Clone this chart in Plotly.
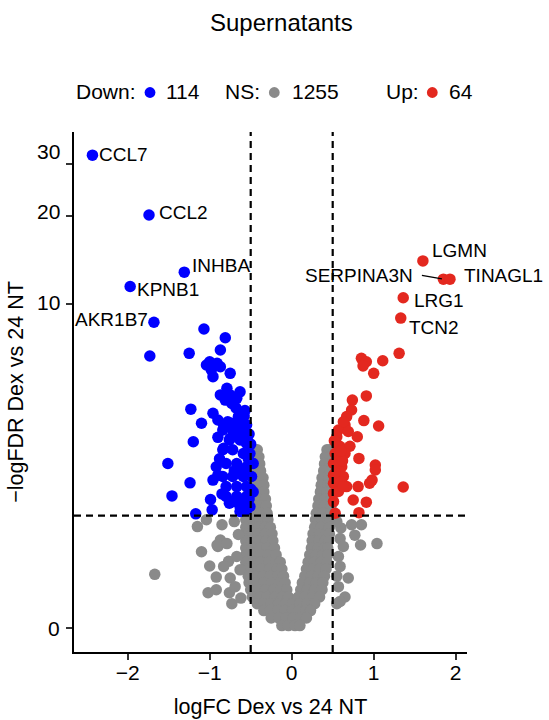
import numpy as np
import plotly.graph_objects as go

# ---------------- data ----------------
FC_CUT = 0.5
FDR_CUT = 1.301

title_text = "Supernatants"
x_title = "logFC Dex vs 24 NT"
y_title = "\u2212logFDR Dex vs 24 NT"
x_tick_vals = [-2, -1, 0, 1, 2]
x_tick_text = ["\u22122", "\u22121", "0", "1", "2"]
y_tick_vals = [0, 10, 20, 30]
y_tick_text = ["0", "10", "20", "30"]

legend_names = ["Down:", "NS:", "Up:"]
legend_counts = [114, 1255, 64]

# labelled genes
label_names = ["CCL7", "CCL2", "INHBA", "KPNB1", "AKR1B7",
               "LGMN", "SERPINA3N", "TINAGL1", "LRG1", "TCN2"]
label_fc = [-2.43, -1.74, -1.31, -1.97, -1.68, 1.60, 1.85, 1.93, 1.36, 1.33]
label_fdr = [32.0, 20.2, 12.9, 11.5, 8.6, 14.1, 12.2, 12.2, 10.5, 8.9]
label_group = ["Down"] * 5 + ["Up"] * 5

# down-regulated (unlabelled)
down_fc = [-1.73, -1.07, -0.81, -1.25, -0.87, -1.00, -0.91, -1.04, -0.98, -0.96,
           -0.87, -0.75, -0.79, -0.87, -0.81, -0.73, -0.67, -0.63, -0.75, -1.23,
           -0.96, -0.90, -0.83, -0.73, -0.65, -0.61, -0.69, -1.10, -1.20, -0.75,
           -0.67, -0.59, -0.83, -0.84, -0.72, -0.61, -0.76, -0.63, -0.55, -0.84,
           -0.72, -0.59, -0.51, -0.92, -0.80, -0.67, -0.55, -0.47, -0.84, -0.72,
           -0.59, -0.49, -0.80, -0.67, -0.55, -0.47, -0.80, -0.67, -0.55, -0.76,
           -0.63, -0.51, -0.63, -1.51, -1.24, -1.46, -0.96, -0.99, -0.97, -1.17,
           -0.78, -0.58, -0.55, -0.52, -0.57, -0.68, -0.50, -0.53, -0.60, -0.70,
           -0.88, -0.90, -0.85, -0.72, -0.58, -0.50, -0.90, -0.62, -0.55, -0.52]
down_fdr = [6.48, 8.13, 7.56, 6.63, 6.82, 6.17, 6.09, 6.00, 5.75, 5.42,
            5.91, 5.58, 4.89, 4.61, 4.40, 4.27, 4.47, 4.74, 4.61, 4.05,
            3.90, 3.66, 3.49, 3.55, 3.78, 3.44, 3.33, 3.55, 2.97, 3.07,
            3.17, 3.02, 2.78, 3.33, 3.33, 3.33, 3.02, 3.02, 2.92, 2.74,
            2.74, 2.64, 2.64, 2.30, 2.38, 2.38, 2.30, 2.38, 2.07, 2.07,
            2.07, 2.07, 1.85, 1.85, 1.85, 1.74, 1.65, 1.65, 1.65, 1.52,
            1.46, 1.46, 1.37, 2.38, 1.93, 1.66, 1.99, 1.59, 1.40, 1.33,
            3.60, 3.80, 3.50, 3.20, 4.00, 4.10, 2.90, 2.50, 2.20, 2.20,
            2.50, 2.10, 1.70, 1.55, 1.55, 1.80, 3.10, 3.55, 1.40, 1.60]

# up-regulated (unlabelled)
up_fc = [1.31, 0.85, 0.91, 0.87, 1.11, 1.00, 0.91, 0.74, 0.73, 0.67,
         0.65, 0.88, 1.06, 0.57, 0.55, 0.69, 0.80, 0.59, 0.71, 0.53,
         0.65, 0.82, 0.51, 0.61, 0.51, 0.63, 1.02, 1.02, 0.51, 0.67,
         0.81, 0.95, 0.98, 1.36, 0.51, 0.75, 0.91, 0.53, 0.82, 0.55,
         0.58, 0.53, 0.57, 0.60, 0.62, 0.52, 0.63, 0.60, 0.51, 0.63]
up_fdr = [6.63, 6.35, 6.17, 5.95, 6.22, 5.58, 4.57, 4.40, 4.02, 3.78,
          3.49, 3.64, 3.46, 3.33, 3.12, 3.28, 3.12, 2.83, 2.84, 2.64,
          2.64, 2.51, 2.38, 2.30, 2.10, 2.07, 2.34, 2.22, 1.92, 1.85,
          1.85, 1.92, 1.99, 1.84, 1.71, 1.58, 1.54, 1.34, 1.35, 2.90,
          2.45, 2.15, 1.75, 1.95, 2.45, 3.00, 3.60, 2.70, 1.55, 1.85]

# not significant: rows of the dense V (one -logFDR level per row)
ns_row_fdr = [2.74, 2.55, 2.37, 2.20, 2.04, 1.88, 1.74, 1.60, 1.47, 1.34,
              1.23, 1.11, 1.01, 0.91, 0.81, 0.72, 0.63, 0.55, 0.47, 0.40,
              0.33, 0.26, 0.20, 0.14, 0.08, 0.02]
ns_row_fc = [
    [-0.42, 0.43, 0.46],
    [-0.44, -0.40, 0.41, 0.47],
    [-0.46, -0.39, 0.40, 0.47],
    [-0.47, -0.38, 0.39, 0.47],
    [-0.49, -0.41, -0.35, 0.37, 0.45],
    [-0.50, -0.42, -0.34, 0.36, 0.44, 0.48],
    [-0.52, -0.43, -0.34, 0.35, 0.43, 0.48],
    [-0.53, -0.45, -0.36, -0.32, 0.33, 0.41, 0.48],
    [-0.54, -0.46, -0.38, -0.31, 0.32, 0.40, 0.48],
    [-0.56, -0.47, -0.38, -0.30, 0.30, 0.38, 0.48],
    [-0.56, -0.48, -0.39, -0.29, 0.29, 0.37, 0.47],
    [-0.56, -0.48, -0.40, -0.32, -0.26, 0.28, 0.36, 0.46],
    [-0.56, -0.48, -0.40, -0.32, -0.24, 0.26, 0.34, 0.42, 0.46],
    [-0.56, -0.48, -0.40, -0.31, -0.23, 0.25, 0.33, 0.41, 0.45],
    [-0.56, -0.48, -0.39, -0.30, -0.21, 0.24, 0.32, 0.40, 0.44],
    [-0.56, -0.47, -0.38, -0.29, -0.19, 0.22, 0.30, 0.38, 0.44],
    [-0.56, -0.47, -0.38, -0.28, -0.19, -0.14, 0.20, 0.28, 0.36, 0.43],
    [-0.55, -0.46, -0.37, -0.27, -0.18, -0.12, 0.18, 0.26, 0.34, 0.42],
    [-0.53, -0.44, -0.35, -0.26, -0.17, -0.10, 0.16, 0.24, 0.32, 0.40],
    [-0.52, -0.43, -0.34, -0.24, -0.15, -0.08, 0.13, 0.22, 0.30, 0.38],
    [-0.50, -0.41, -0.32, -0.22, -0.13, -0.06, 0.11, 0.19, 0.28, 0.37],
    [-0.48, -0.39, -0.30, -0.20, -0.11, -0.04, 0.08, 0.16, 0.25, 0.34],
    [-0.42, -0.34, -0.25, -0.16, -0.07, 0.01, 0.10, 0.19, 0.28],
    [-0.34, -0.26, -0.17, -0.08, 0.01, 0.09, 0.17, 0.23],
    [-0.25, -0.16, -0.07, 0.02, 0.10, 0.18],
    [-0.12, -0.04, 0.04, 0.10],
]
# not significant: scattered genes around the V
ns_out_fc = [-1.67, -1.10, -1.00, -0.92, -1.02, -0.92, -0.76, -0.73, -1.15, -1.04,
             -0.85, -0.87, -0.90, -0.77, -0.75, -0.83, -0.67, -0.63, -0.69, -0.91,
             -0.79, -0.65, -0.70, -0.62,
             1.04, 0.85, 0.77, 0.84, 0.69, 0.65, 0.59, 0.63, 0.57, 0.59,
             0.55, 0.59, 0.73, 0.55, 0.57, 0.60, 0.55]
ns_out_fdr = [0.49, 0.76, 0.585, 0.46, 0.30, 0.33, 0.30, 0.20, 1.12, 1.23,
              1.15, 0.92, 0.83, 0.64, 0.45, 0.58, 0.70, 0.54, 0.36, 0.85,
              0.87, 1.00, 1.20, 0.25,
              0.87, 1.15, 0.99, 0.85, 0.45, 0.26, 0.94, 0.83, 0.70, 0.58,
              0.20, 0.22, 1.15, 0.47, 0.36, 1.10, 1.20]

# ---------------- styling ----------------
FONT = "Liberation Sans, Arial, Helvetica, sans-serif"
COL = {"Down": "#0000FF", "NS": "#8A8A8A", "Up": "#E3281F"}
MSIZE = 11.5
W, H = 549, 720
ML, MR, MT, MB = 74, 82, 132, 68
PX_PER_FC = 82.0
PX_PER_LOG = 311.6
ZERO_X_PX = 291.7
ZERO_Y_PX = 628.3


def tr(v):
    """pseudo-log transform of the y scale"""
    return np.log10(1.0 + np.asarray(v, dtype=float))


ns_fc = [x for row in ns_row_fc for x in row] + ns_out_fc
ns_fdr = [y for y, row in zip(ns_row_fdr, ns_row_fc) for _ in row] + ns_out_fdr

lab_down = [i for i, g in enumerate(label_group) if g == "Down"]
lab_up = [i for i, g in enumerate(label_group) if g == "Up"]
dn_x = down_fc + [label_fc[i] for i in lab_down]
dn_y = down_fdr + [label_fdr[i] for i in lab_down]
up_x = up_fc + [label_fc[i] for i in lab_up]
up_y = up_fdr + [label_fdr[i] for i in lab_up]

fig = go.Figure()
for name, xs, ys in [("NS", ns_fc, ns_fdr), ("Down", dn_x, dn_y), ("Up", up_x, up_y)]:
    fig.add_trace(go.Scatter(
        x=xs, y=tr(ys), mode="markers", name=name, showlegend=False,
        marker=dict(color=COL[name], size=MSIZE, line=dict(width=0)),
        hoverinfo="skip"))

# threshold lines
dash = dict(color="black", width=2.2, dash="7px,5px")
fig.add_vline(x=-FC_CUT, line=dash, layer="above")
fig.add_vline(x=FC_CUT, line=dash, layer="above")
fig.add_hline(y=float(tr(FDR_CUT)), line=dash, layer="above")

# gene labels: (xshift, yshift, xanchor)
lab_style = {
    "CCL7": (4.5, 1, "left"), "CCL2": (7.5, 2.6, "left"),
    "INHBA": (5.5, 6.3, "left"), "KPNB1": (4.5, -2.6, "left"),
    "AKR1B7": (-3.5, 2.3, "right"), "LGMN": (7.5, 10.3, "left"),
    "SERPINA3N": (-28, 3.3, "right"), "TINAGL1": (12.5, 3.3, "left"),
    "LRG1": (8.5, -2.3, "left"), "TCN2": (6.0, -9, "left"),
}
for n, x, y in zip(label_names, label_fc, label_fdr):
    xs, ys, xa = lab_style[n]
    fig.add_annotation(x=x, y=float(tr(y)), text=n, showarrow=False,
                       xanchor=xa, yanchor="middle", xshift=xs, yshift=ys,
                       font=dict(family=FONT, size=19, color="black"))
# connector segment for SERPINA3N
i_s = label_names.index("SERPINA3N")
fig.add_annotation(x=label_fc[i_s], y=float(tr(label_fdr[i_s])), text="",
                   showarrow=True, arrowhead=0, arrowwidth=1.4, arrowcolor="black",
                   ax=-23, ay=-4, standoff=1.5)

# y tick labels (drawn as text next to the ticks, as in the source figure)
y_label_shift = [0, 1.5, 5, 12]
for v, t, s in zip(y_tick_vals, y_tick_text, y_label_shift):
    fig.add_annotation(xref="paper", x=0, y=float(tr(v)), text=t, showarrow=False,
                       xanchor="right", yanchor="middle", xshift=-12.5, yshift=s,
                       font=dict(family=FONT, size=21, color="black"))

pw = W - ML - MR
ph = H - MT - MB


def px_x(p):
    return (p - ML) / pw


def px_y(p):
    return (H - MB - p) / ph


# title
fig.add_annotation(xref="paper", yref="paper", x=px_x(281), y=px_y(22),
                   text=title_text, showarrow=False, xanchor="center",
                   yanchor="middle", font=dict(family=FONT, size=24, color="black"))

# custom legend
leg_text_left = [73.5, 222.5, 383.5]
leg_dot_x = [150, 274.3, 432.3]
leg_count_left = [163.5, 289.5, 447]
LEG_Y = 91
for nm, cnt, tl, dx, cl, key in zip(legend_names, legend_counts, leg_text_left,
                                    leg_dot_x, leg_count_left, ["Down", "NS", "Up"]):
    fig.add_annotation(xref="paper", yref="paper", x=px_x(tl), y=px_y(LEG_Y),
                       text=nm, showarrow=False, xanchor="left", yanchor="middle",
                       font=dict(family=FONT, size=21, color="black"))
    fig.add_annotation(xref="paper", yref="paper", x=px_x(cl), y=px_y(LEG_Y),
                       text=str(cnt), showarrow=False, xanchor="left", yanchor="middle",
                       font=dict(family=FONT, size=21, color="black"))
    fig.add_shape(type="circle", xref="paper", yref="paper",
                  xsizemode="pixel", ysizemode="pixel",
                  xanchor=px_x(dx), yanchor=px_y(LEG_Y + 1.5),
                  x0=-5.4, x1=5.4, y0=-5.4, y1=5.4,
                  fillcolor=COL[key], line=dict(width=0))

x0 = (ML - ZERO_X_PX) / PX_PER_FC
x1 = (W - MR - ZERO_X_PX) / PX_PER_FC
y0 = -((H - MB) - ZERO_Y_PX) / PX_PER_LOG
y1 = (ZERO_Y_PX - MT) / PX_PER_LOG

axis_common = dict(showline=True, linecolor="black", linewidth=1.8, mirror=False,
                   ticks="outside", ticklen=6, tickwidth=1.8, tickcolor="#333333",
                   showgrid=False, zeroline=False,
                   tickfont=dict(family=FONT, size=21, color="black"))
fig.update_xaxes(range=[x0, x1], tickvals=x_tick_vals, ticktext=x_tick_text,
                 ticklabelstandoff=-5,
                 title=dict(text=x_title, font=dict(family=FONT, size=21.5, color="black"),
                            standoff=16), **axis_common)
fig.update_yaxes(range=[y0, y1], tickvals=list(tr(y_tick_vals)), ticktext=y_tick_text,
                 showticklabels=False,
                 title=dict(text=y_title, font=dict(family=FONT, size=21.5, color="black"),
                            standoff=37), **axis_common)

fig.update_layout(width=W, height=H, margin=dict(l=ML, r=MR, t=MT, b=MB, autoexpand=False),
                  plot_bgcolor="white", paper_bgcolor="white",
                  font=dict(family=FONT, color="black"), showlegend=False)

fig.write_html("out.html")
